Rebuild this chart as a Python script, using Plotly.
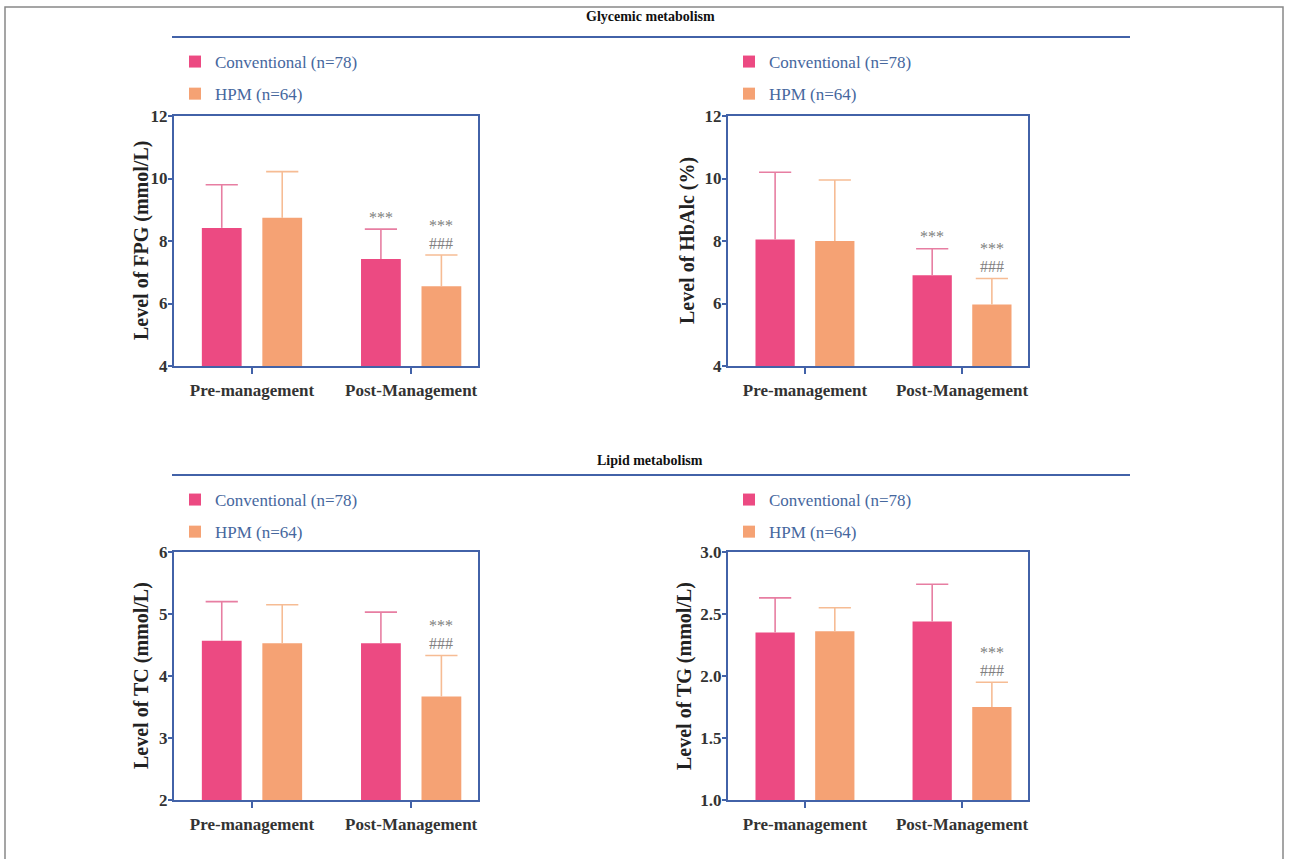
import plotly.graph_objects as go

W, H = 1290, 859

categories = ["Pre-management", "Post-Management"]
series_names = ["Conventional (n=78)", "HPM (n=64)"]

fpg_conv = [8.42, 7.42]
fpg_conv_err = [9.80, 8.38]
fpg_hpm = [8.74, 6.55]
fpg_hpm_err = [10.22, 7.55]

hba_conv = [8.05, 6.90]
hba_conv_err = [10.20, 7.75]
hba_hpm = [8.00, 5.97]
hba_hpm_err = [9.95, 6.80]

tc_conv = [4.57, 4.53]
tc_conv_err = [5.20, 5.03]
tc_hpm = [4.53, 3.67]
tc_hpm_err = [5.15, 4.33]

tg_conv = [2.35, 2.44]
tg_conv_err = [2.63, 2.74]
tg_hpm = [2.36, 1.75]
tg_hpm_err = [2.55, 1.95]

fpg_marks_conv = ["", "***"]
fpg_marks_hpm = ["", "***|###"]
hba_marks_conv = ["", "***"]
hba_marks_hpm = ["", "***|###"]
tc_marks_conv = ["", ""]
tc_marks_hpm = ["", "***|###"]
tg_marks_conv = ["", ""]
tg_marks_hpm = ["", "***|###"]

y_titles = ["Level of FPG (mmol/L)", "Level of HbAlc (%)", "Level of TC (mmol/L)", "Level of TG (mmol/L)"]
y_ranges = [[4, 12], [4, 12], [2, 6], [1, 3]]
y_dticks = [2, 2, 1, 0.5]
section_titles = ["Glycemic metabolism", "Lipid metabolism"]

PINK = "#EC4A82"
ORANGE = "#F5A274"
PINK_ERR = "#E77EA2"
ORANGE_ERR = "#F6BC94"
BLUE = "#4262A8"
SERIF = "Liberation Serif"

BAR_W = 0.25
HALF_SEP = 0.19

panels = [
    (fpg_conv, fpg_conv_err, fpg_hpm, fpg_hpm_err, fpg_marks_conv, fpg_marks_hpm),
    (hba_conv, hba_conv_err, hba_hpm, hba_hpm_err, hba_marks_conv, hba_marks_hpm),
    (tc_conv, tc_conv_err, tc_hpm, tc_hpm_err, tc_marks_conv, tc_marks_hpm),
    (tg_conv, tg_conv_err, tg_hpm, tg_hpm_err, tg_marks_conv, tg_marks_hpm),
]

# pixel boxes of plot areas (left, right, top, bottom)
boxes = [(174, 478, 116, 366), (728, 1028, 116, 366),
         (174, 478, 552, 800), (728, 1028, 552, 800)]
title_offsets = [33, 41, 33, 44]
legend_pos = [(175, 44), (729, 44), (175, 482), (729, 482)]

fig = go.Figure()
layout = {}
annotations = []
shapes = []
xidx = list(range(len(categories)))

for i, (conv, conv_e, hpm, hpm_e, mc, mh) in enumerate(panels):
    n = "" if i == 0 else str(i + 1)
    xa, ya = "x" + n, "y" + n
    lg = "legend" + n
    for name, vals, errs, col, ecol, sgn, marks in [
        (series_names[0], conv, conv_e, PINK, PINK_ERR, -1, mc),
        (series_names[1], hpm, hpm_e, ORANGE, ORANGE_ERR, 1, mh),
    ]:
        centers = [k + sgn * HALF_SEP for k in xidx]
        fig.add_trace(go.Bar(
            x=centers, y=vals, name=name, width=BAR_W,
            marker=dict(color=col, line=dict(width=0)),
            error_y=dict(type="data", symmetric=False,
                         array=[e - v for e, v in zip(errs, vals)],
                         arrayminus=[0] * len(vals),
                         color=ecol, thickness=1.6, width=0),
            xaxis=xa, yaxis=ya, legend=lg, legendgroup=name + n, showlegend=True,
        ))
        # error caps
        fig.add_trace(go.Scatter(
            x=centers, y=errs, mode="markers",
            marker=dict(symbol="line-ew-open", size=23, color=ecol,
                        line=dict(color=ecol, width=1.6)),
            xaxis=xa, yaxis=ya, showlegend=False, hoverinfo="skip", legend=lg,
        ))
        # significance marks
        for c, e, m in zip(centers, errs, marks):
            if not m:
                continue
            parts = m.split("|")
            for k, txt in enumerate(reversed(parts)):
                annotations.append(dict(
                    x=c, y=e, xref=xa, yref=ya, text=txt, showarrow=False,
                    yshift=12 + 18 * k, yanchor="middle",
                    font=dict(family=SERIF, size=16, color="#808080"),
                ))
    l, r, t, b = boxes[i]
    layout["xaxis" + n] = dict(
        domain=[l / W, r / W], anchor=ya,
        range=[-0.49, 1.42], tickvals=xidx, ticktext=categories,
        showline=True, linecolor=BLUE, linewidth=2, mirror=True,
        ticks="outside", ticklen=6, tickwidth=2, tickcolor=BLUE,
        ticklabelstandoff=2,
        tickfont=dict(family=SERIF, size=17, color="#333333", weight="bold"),
        showgrid=False, zeroline=False, fixedrange=True, automargin=False,
    )
    layout["yaxis" + n] = dict(
        domain=[1 - b / H, 1 - t / H], anchor=xa,
        range=y_ranges[i], dtick=y_dticks[i], tick0=y_ranges[i][0],
        tickformat=".1f" if y_dticks[i] < 1 else "d",
        showline=True, linecolor=BLUE, linewidth=2, mirror=True,
        ticks="outside", ticklen=4, tickwidth=2, tickcolor=BLUE,
        ticklabelstandoff=-3,
        tickfont=dict(family=SERIF, size=17, color="#333333", weight="bold"),
        showgrid=False, zeroline=False, fixedrange=True, automargin=False,
    )
    # y-axis title
    annotations.append(dict(
        x=(l - title_offsets[i]) / W, y=1 - (t + b) / 2 / H, xref="paper", yref="paper",
        text=y_titles[i], textangle=-90, showarrow=False,
        xanchor="center", yanchor="middle",
        font=dict(family=SERIF, size=20, color="#222222", weight="bold"),
    ))
    lx, ly = legend_pos[i]
    layout[lg] = dict(
        x=lx / W, y=1 - ly / H, xanchor="left", yanchor="top",
        font=dict(family=SERIF, size=17, color="#46679E"),
        bgcolor="rgba(0,0,0,0)", tracegroupgap=7, itemwidth=30,
    )

# section headers
for txt, ty, lyy in [(section_titles[0], 17, 37), (section_titles[1], 460, 475)]:
    annotations.append(dict(
        x=650 / W, y=1 - ty / H, xref="paper", yref="paper", text=txt, showarrow=False,
        font=dict(family=SERIF, size=14, color="#111111", weight="bold"),
        xanchor="center", yanchor="middle",
    ))
    shapes.append(dict(type="line", xref="paper", yref="paper",
                       x0=172 / W, x1=1130 / W, y0=1 - lyy / H, y1=1 - lyy / H,
                       line=dict(color=BLUE, width=2)))

# outer frame
shapes.append(dict(type="rect", xref="paper", yref="paper",
                   x0=5 / W, x1=1283 / W, y0=-0.05, y1=1 - 7 / H,
                   line=dict(color="#888888", width=1.5), fillcolor="rgba(0,0,0,0)"))

fig.update_layout(
    **layout,
    width=W, height=H,
    margin=dict(l=0, r=0, t=0, b=0, autoexpand=False),
    paper_bgcolor="white", plot_bgcolor="white",
    annotations=annotations, shapes=shapes,
)

fig.write_html(
    "out.html",
    config={"displayModeBar": False},
    post_script=(
        "document.documentElement.style.margin='0';"
        "document.body.style.margin='0';document.body.style.overflow='hidden';"
        "var d=document.getElementById('{plot_id}');"
        "d.style.position='absolute';d.style.top='0px';d.style.left='0px';"
        "window.scrollTo(0,0);"
    ),
)
